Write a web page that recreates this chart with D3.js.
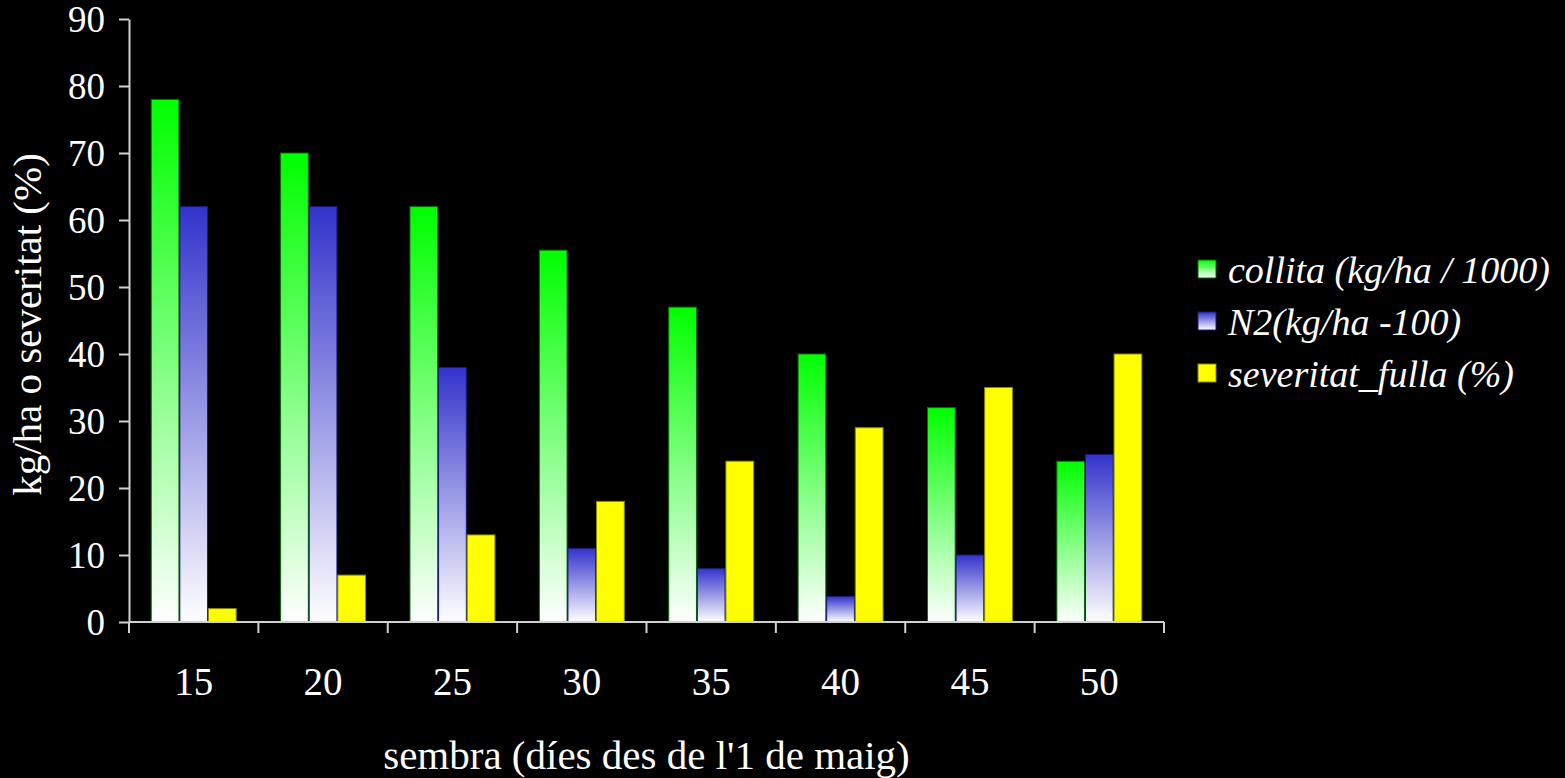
<!DOCTYPE html>
<html>
<head>
<meta charset="utf-8">
<script src="https://cdn.jsdelivr.net/npm/d3@7/dist/d3.min.js"></script>
<style>
  html, body { margin: 0; padding: 0; background: #000; }
  svg { display: block; }
  text { font-family: "Liberation Serif", "Times New Roman", serif; fill: #fff; }
</style>
</head>
<body>
<svg id="chart" width="1565" height="778"></svg>
<script>
// Sowing dates (days from 1 May)
const categories = ["15", "20", "25", "30", "35", "40", "45", "50"];
// Yield (kg/ha / 1000)
const collita = [78, 70, 62, 55.5, 47, 40, 32, 24];
// N2 (kg/ha - 100)
const n2 = [62, 62, 38, 11, 8, 3.8, 10, 25];
// Leaf severity (%)
const severitat = [2, 7, 13, 18, 24, 29, 35, 40];
const yTicks = [0, 10, 20, 30, 40, 50, 60, 70, 80, 90];

const seriesNames = ["collita (kg/ha / 1000)", "N2(kg/ha -100)", "severitat_fulla (%)"];
const seriesKeys = ["collita", "n2", "severitat"];
const seriesValues = [collita, n2, severitat];

const svg = d3.select("#chart");
const margin = { left: 129, right: 401, top: 19, bottom: 156 };
const W = 1565, H = 778;
const plotW = W - margin.left - margin.right;
const plotH = H - margin.top - margin.bottom;

// Vertical gradients: saturated at the top of each bar, fading to white at the base
const defs = svg.append("defs");
function gradient(id, top, bottom) {
  const g = defs.append("linearGradient").attr("id", id)
    .attr("x1", 0).attr("y1", 0).attr("x2", 0).attr("y2", 1);
  g.append("stop").attr("offset", "0%").attr("stop-color", top);
  g.append("stop").attr("offset", "100%").attr("stop-color", bottom);
}
gradient("gGreen", "#00ff00", "#ffffff");
gradient("gBlue", "#3333cc", "#ffffff");

const fills = { collita: "url(#gGreen)", n2: "url(#gBlue)", severitat: "#ffff00" };
const strokes = { collita: "#0a6a0a", n2: "#1a1a80", severitat: "#8a8a00" };

const x0 = d3.scaleBand().domain(categories)
  .range([margin.left, margin.left + plotW])
  .paddingInner(0.33).paddingOuter(0.165);
const x1 = d3.scaleBand().domain(seriesKeys)
  .range([0, x0.bandwidth()]).padding(0.03);
const y = d3.scaleLinear().domain([0, 90]).range([margin.top + plotH, margin.top]);

// Bars
const rows = categories.map((c, i) => ({
  cat: c,
  vals: seriesKeys.map((k, j) => ({ key: k, value: seriesValues[j][i] }))
}));

const groups = svg.append("g").selectAll("g").data(rows).join("g")
  .attr("transform", d => `translate(${x0(d.cat)},0)`);
groups.selectAll("rect").data(d => d.vals).join("rect")
  .attr("x", d => x1(d.key))
  .attr("width", x1.bandwidth())
  .attr("y", d => y(d.value))
  .attr("height", d => y(0) - y(d.value))
  .attr("fill", d => fills[d.key])
  .attr("stroke", d => strokes[d.key])
  .attr("stroke-width", 1);

const axisColor = "#d0d0d0";

// Y axis
const yAxis = svg.append("g")
  .attr("transform", `translate(${margin.left},0)`)
  .call(d3.axisLeft(y).tickValues(yTicks).tickSize(10).tickSizeOuter(0).tickPadding(14));
yAxis.select(".domain").attr("stroke", axisColor).attr("stroke-width", 2);
yAxis.selectAll(".tick line").attr("stroke", axisColor).attr("stroke-width", 2);
yAxis.selectAll(".tick text").attr("font-size", 37).attr("dy", "0.34em")
  .style("font-family", "'Liberation Serif', serif").attr("fill", "#fff");

// X axis: baseline with ticks at the category boundaries
const xAxis = svg.append("g").attr("transform", `translate(0,${y(0)})`);
xAxis.append("line")
  .attr("x1", margin.left).attr("x2", margin.left + plotW)
  .attr("stroke", axisColor).attr("stroke-width", 2);
const step = x0.step();
const bounds = d3.range(categories.length + 1).map(i => margin.left + i * step);
xAxis.selectAll("line.b").data(bounds).join("line").attr("class", "b")
  .attr("x1", d => d).attr("x2", d => d).attr("y1", 0).attr("y2", 11)
  .attr("stroke", axisColor).attr("stroke-width", 2);
xAxis.selectAll("text").data(categories).join("text")
  .attr("x", d => x0(d) + x0.bandwidth() / 2)
  .attr("y", 73)
  .attr("text-anchor", "middle")
  .attr("font-size", 39)
  .text(d => d);

// Axis titles
svg.append("text")
  .attr("x", margin.left + plotW / 2).attr("y", 769)
  .attr("text-anchor", "middle").attr("font-size", 41)
  .text("sembra (díes des de l'1 de maig)");
svg.append("text")
  .attr("transform", `translate(41,${margin.top + plotH / 2 + 4}) rotate(-90)`)
  .attr("text-anchor", "middle").attr("font-size", 41)
  .text("kg/ha o severitat (%)");

// Legend
const legend = svg.append("g").attr("transform", "translate(1198,260)");
const lg = legend.selectAll("g").data(seriesKeys).join("g")
  .attr("transform", (d, i) => `translate(0,${i * 52})`);
lg.append("rect").attr("width", 18).attr("height", 18)
  .attr("fill", d => fills[d]).attr("stroke", d => strokes[d]).attr("stroke-width", 1);
lg.append("text").attr("x", 30).attr("y", 9).attr("dy", "0.36em")
  .attr("font-size", 38).attr("font-style", "italic")
  .text((d, i) => seriesNames[i]);
</script>
</body>
</html>
